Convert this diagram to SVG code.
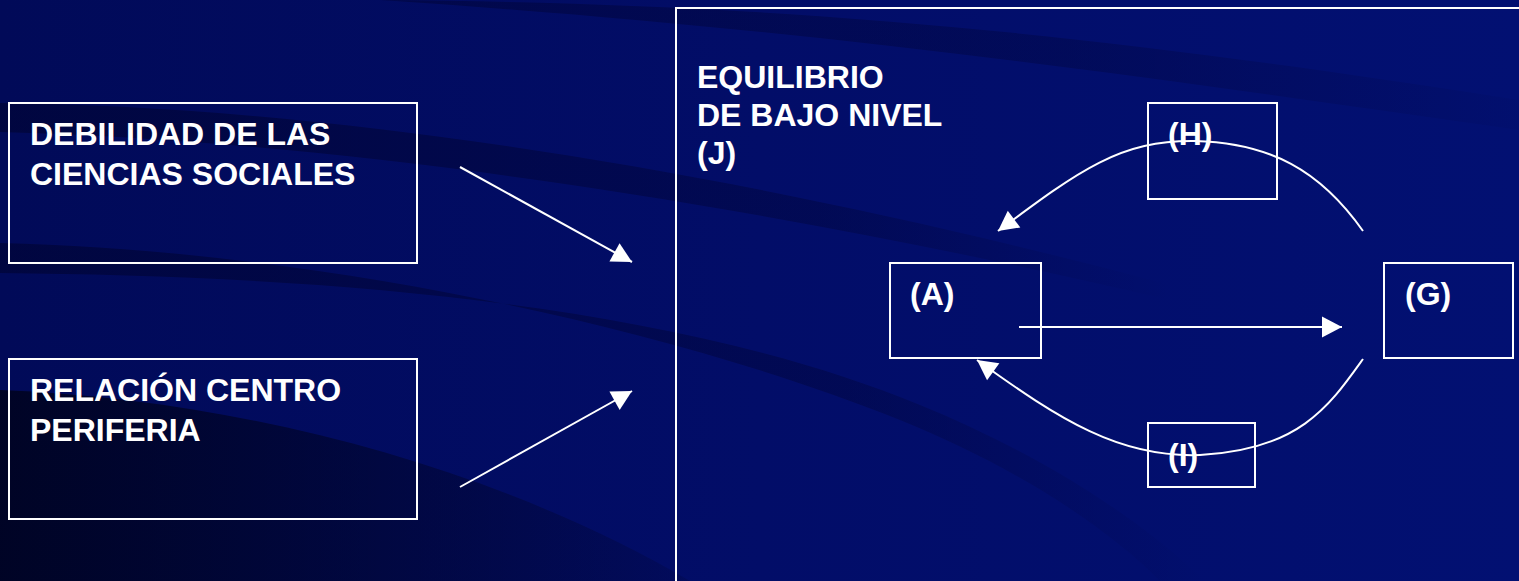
<svg xmlns="http://www.w3.org/2000/svg" width="1519" height="581" viewBox="0 0 1519 581">
<defs>
<linearGradient id="bg" x1="0" y1="0" x2="1" y2="0">
<stop offset="0" stop-color="#010a58"/>
<stop offset="0.5" stop-color="#020d68"/>
<stop offset="1" stop-color="#021072"/>
</linearGradient>
<linearGradient id="dark" x1="0" y1="0" x2="1" y2="0">
<stop offset="0" stop-color="#000320" stop-opacity="0.9"/>
<stop offset="1" stop-color="#000320" stop-opacity="0.15"/>
</linearGradient>
<linearGradient id="fadeR" x1="0" y1="0" x2="1" y2="0">
<stop offset="0" stop-color="#000330" stop-opacity="0.6"/>
<stop offset="0.7" stop-color="#000330" stop-opacity="0.35"/>
<stop offset="1" stop-color="#000330" stop-opacity="0"/>
</linearGradient>
<linearGradient id="fadeT" x1="0" y1="0" x2="1" y2="0">
<stop offset="0" stop-color="#000330" stop-opacity="0.45"/>
<stop offset="0.6" stop-color="#000330" stop-opacity="0.3"/>
<stop offset="1" stop-color="#000330" stop-opacity="0.05"/>
</linearGradient>
<marker id="ah" viewBox="-21 -11 22 22" refX="0" refY="0" markerWidth="22" markerHeight="22" markerUnits="userSpaceOnUse" orient="auto">
<path d="M0,0 L-20,-10.5 L-20,10.5 Z" fill="#ffffff"/>
</marker>
<style>
.box{fill:none;stroke:#ffffff;stroke-width:2}
.t{font-family:"Liberation Sans",Arial,sans-serif;font-weight:bold;font-size:32px;fill:#ffffff}
.c{fill:none;stroke:#ffffff;stroke-width:2}
</style>
</defs>
<g id="background">
<rect x="0" y="0" width="1519" height="581" fill="url(#bg)"/>
<path d="M380,0 C800,3 1100,35 1519,100 L1519,130 C1100,70 800,28 380,0 Z" fill="url(#fadeT)"/>
<path d="M0,103 C300,106 700,160 1170,285 L1170,300 C700,190 300,140 0,132 Z" fill="url(#fadeR)"/>
<path d="M0,243 C300,250 650,320 900,420 C1000,460 1100,520 1160,581 L1205,581 C1130,510 1030,450 920,405 C660,298 300,276 0,273 Z" fill="url(#fadeR)"/>
<path d="M0,390 C250,400 500,470 690,581 L0,581 Z" fill="url(#dark)"/>
</g>
<g id="node-debilidad">
<rect class="box" x="9" y="103" width="408" height="160"/>
<text class="t" x="30" y="145">DEBILIDAD DE LAS</text>
<text class="t" x="30" y="185">CIENCIAS SOCIALES</text>
</g>
<g id="node-relacion">
<rect class="box" x="9" y="359" width="408" height="160"/>
<text class="t" x="30" y="401">RELACIÓN CENTRO</text>
<text class="t" x="30" y="441">PERIFERIA</text>
</g>
<g id="node-J">
<rect class="box" x="676" y="8" width="860" height="600"/>
<text class="t" x="697" y="88">EQUILIBRIO</text>
<text class="t" x="697" y="126">DE BAJO NIVEL</text>
<text class="t" x="697" y="164">(J)</text>
</g>
<g id="node-A">
<rect class="box" x="890" y="263" width="151" height="95"/>
<text class="t" x="910" y="305">(A)</text>
</g>
<g id="node-G">
<rect class="box" x="1384" y="263" width="129" height="95"/>
<text class="t" x="1405" y="305">(G)</text>
</g>
<g id="node-H">
<rect class="box" x="1148" y="103" width="129" height="96"/>
<text class="t" x="1168" y="145">(H)</text>
</g>
<g id="node-I">
<rect class="box" x="1148" y="423" width="107" height="64"/>
<text class="t" x="1168" y="466">(I)</text>
</g>
<g id="connectors">
<line class="c" x1="460" y1="167" x2="632" y2="262" marker-end="url(#ah)"/>
<line class="c" x1="460" y1="487" x2="632" y2="391" marker-end="url(#ah)"/>
<line class="c" x1="1019" y1="327" x2="1342" y2="327" marker-end="url(#ah)"/>
<path class="c" d="M1363,231 C1320,170 1270,143 1195,141 C1120,140 1080,170 998,231" marker-end="url(#ah)"/>
<path class="c" d="M1363,359 C1330,405 1300,450 1200,455 C1120,458 1060,420 977,360" marker-end="url(#ah)"/>
</g>
</svg>
